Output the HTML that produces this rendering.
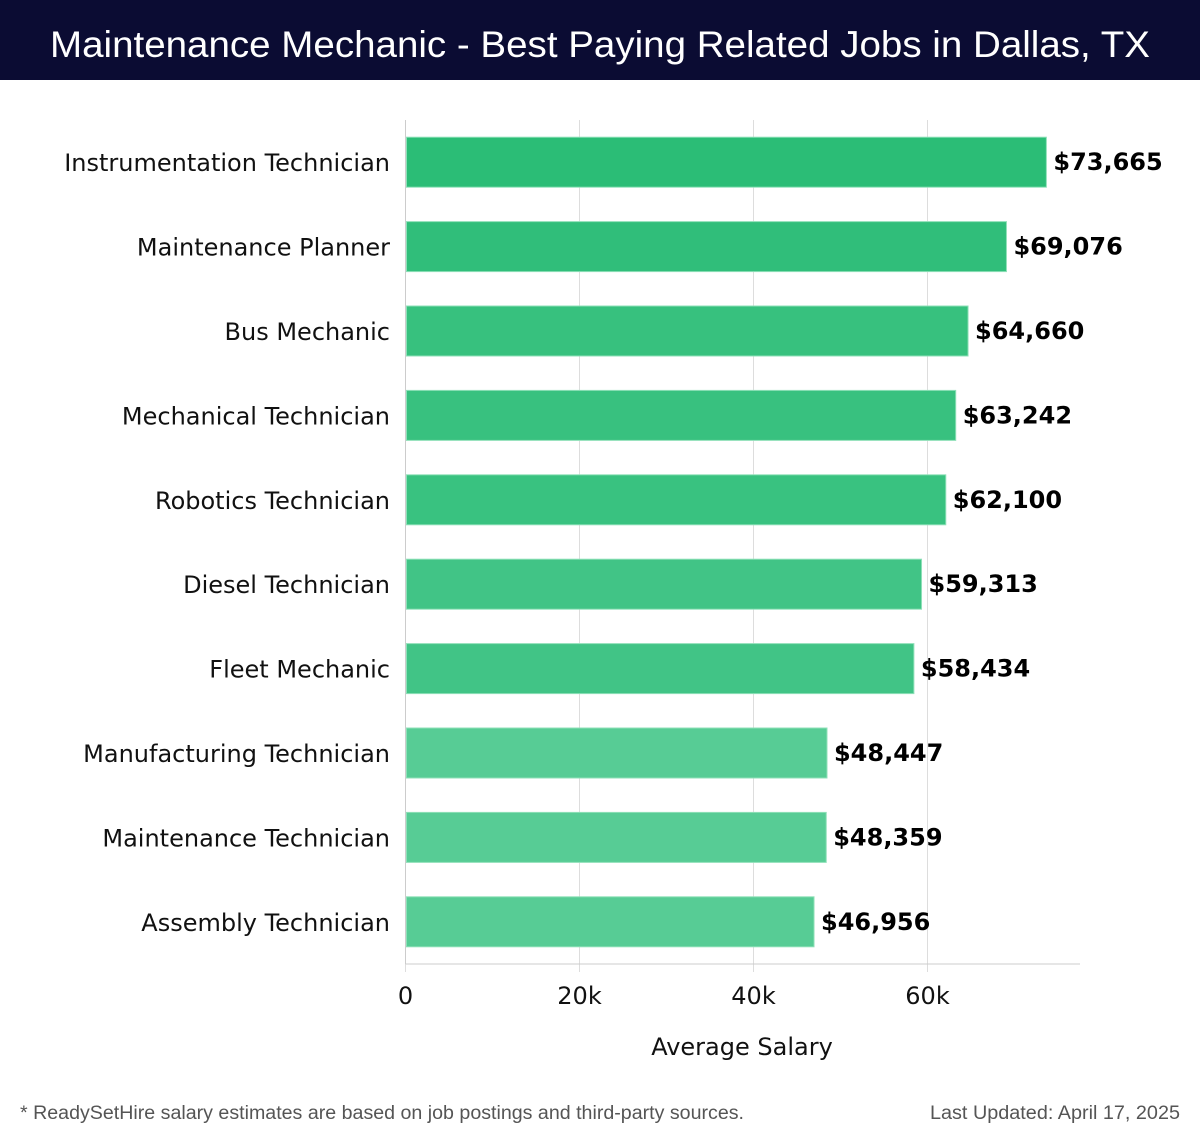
<!DOCTYPE html>
<html><head><meta charset="utf-8"><style>
html,body{margin:0;padding:0;background:#fff;}
svg{display:block;}
</style></head><body>
<svg id="chart" width="1200" height="1140" xmlns="http://www.w3.org/2000/svg">
<rect x="0" y="0" width="1200" height="80" fill="#0b0c33"/>
<text x="600" y="57" text-anchor="middle" fill="#fff" font-family="Liberation Sans, sans-serif" font-size="37" textLength="1100" lengthAdjust="spacingAndGlyphs">Maintenance Mechanic - Best Paying Related Jobs in Dallas, TX</text>
<g id="grid"></g><g id="bars"></g><g id="axis"></g>
<text x="742" y="1055" text-anchor="middle" font-family="DejaVu Sans, sans-serif" font-size="24" fill="#111">Average Salary</text>
<text x="20" y="1119" font-family="Liberation Sans, sans-serif" font-size="19" fill="#555" textLength="724" lengthAdjust="spacingAndGlyphs">* ReadySetHire salary estimates are based on job postings and third-party sources.</text>
<text x="1180" y="1119" text-anchor="end" font-family="Liberation Sans, sans-serif" font-size="19" fill="#555" textLength="250" lengthAdjust="spacingAndGlyphs">Last Updated: April 17, 2025</text>
</svg>
<script>
const categories = ["Instrumentation Technician","Maintenance Planner","Bus Mechanic","Mechanical Technician","Robotics Technician","Diesel Technician","Fleet Mechanic","Manufacturing Technician","Maintenance Technician","Assembly Technician"];
const salaries = [73665,69076,64660,63242,62100,59313,58434,48447,48359,46956];
const tickValues = [0,20000,40000,60000];
const tickLabels = ["0","20k","40k","60k"];

const NS="http://www.w3.org/2000/svg";
const x0=405.5, pxPer=174/20000, plotTop=120, band=84.4, barH=50, axisY=964, axisEnd=1080;
const xs=v=>x0+v*pxPer;
const yc=i=>plotTop+band*i+band/2;
function mk(tag,attrs,parent,txt){const e=document.createElementNS(NS,tag);for(const k in attrs)e.setAttribute(k,attrs[k]);if(txt!==undefined)e.textContent=txt;parent.appendChild(e);return e;}
const grid=document.getElementById('grid'),bars=document.getElementById('bars'),axis=document.getElementById('axis');
tickValues.forEach((t,i)=>{
  const g=mk('line',{x1:xs(t),x2:xs(t),y1:plotTop,y2:axisY+8,stroke:'#ddd','stroke-width':1},grid);
  
  
  const l=mk('text',{x:xs(t),y:1004,'text-anchor':'middle','font-family':'DejaVu Sans, sans-serif','font-size':24,fill:'#111'},axis,tickLabels[i]);
  
  
});
const ax=mk('line',{x1:x0,x2:axisEnd,y1:axisY,y2:axisY,stroke:'#ccc','stroke-width':1},axis);


const ay=mk('line',{x1:x0,x2:x0,y1:plotTop,y2:axisY,stroke:'#ccc','stroke-width':1},axis);


const cols=['#2bbd76','#30be7a','#37c17e','#38c17f','#39c280','#41c486','#41c486','#57cc95','#57cc95','#57cc95'];
categories.forEach((c,i)=>{
  const y=yc(i);
  const r=mk('rect',{x:x0+1,y:y-barH/2,width:xs(salaries[i])-x0-1,height:barH,fill:cols[i],stroke:'#8fe0b8','stroke-width':1},bars);
  
  
  const lb=mk('text',{x:390,y:y+9,'text-anchor':'end','font-family':'DejaVu Sans, sans-serif','font-size':24,fill:'#111'},bars,c);
  
  
  const v=mk('text',{x:xs(salaries[i])+7,y:y+8,'font-family':'DejaVu Sans, sans-serif','font-size':24,'font-weight':'bold',fill:'#000'},bars,'$'+salaries[i].toLocaleString('en-US'));
  
  
});
</script>
</body></html>
